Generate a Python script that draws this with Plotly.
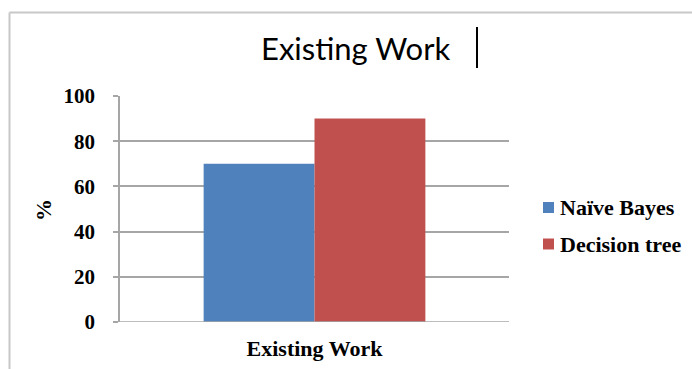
import plotly.graph_objects as go

categories = ["Existing Work"]
naive_bayes = [70]
decision_tree = [90]
series_names = ["Naïve Bayes", "Decision tree"]
series_colors = ["#4F81BD", "#C0504D"]
y_ticks = [0, 20, 40, 60, 80, 100]

W, H = 692, 369
L, R, T, B = 120, 509, 96, 322  # plot area in px
pw, ph = R - L, B - T

def px(x):
    return (x - L) / pw

def py(y):
    return (B - y) / ph

fig = go.Figure()
for name, vals, col in [(series_names[0], naive_bayes, series_colors[0]),
                        (series_names[1], decision_tree, series_colors[1])]:
    fig.add_trace(go.Bar(x=categories, y=vals, name=name, marker_color=col,
                         marker_line_width=0, showlegend=False))

serif = "Liberation Serif, Times New Roman, serif"
bold22 = dict(family=serif, size=22, color="black", weight="bold")
fig.update_layout(
    width=W, height=H,
    margin=dict(l=L, r=W - R, t=T, b=H - B, pad=0, autoexpand=False),
    paper_bgcolor="white", plot_bgcolor="white",
    barmode="group", bargap=0.43, bargroupgap=0,
    showlegend=False,
    xaxis=dict(showline=False, showgrid=False, ticks="", automargin=False,
               tickfont=dict(family=serif, size=22, color="black", weight="bold"),
               ticklabelstandoff=11),
    yaxis=dict(range=[0, 100], tickvals=y_ticks, showgrid=True, gridcolor="#A6A6A6",
               gridwidth=1.5, showline=True, linecolor="#A6A6A6", linewidth=1.5,
               ticks="outside", ticklen=5, tickcolor="#A6A6A6", tickwidth=1.5,
               zeroline=False, automargin=False,
               tickfont=dict(family=serif, size=21, color="black", weight="bold"),
               ticklabelstandoff=14),
    font=dict(family=serif, color="black"),
)

fig.add_annotation(text="Existing Work", xref="paper", yref="paper", x=px(355), y=py(48),
                   showarrow=False, font=dict(family="Lato, Calibri, sans-serif", size=31, color="black"),
                   xanchor="center", yanchor="middle")
fig.add_annotation(text="%", xref="paper", yref="paper", x=px(43), y=py(210), textangle=-90,
                   showarrow=False, font=bold22, xanchor="center", yanchor="middle")

# legend (manual)
leg_y = [207.5, 244]
for name, col, yy in zip(series_names, series_colors, leg_y):
    fig.add_shape(type="rect", xref="paper", yref="paper", x0=px(543), x1=px(554),
                  y0=py(yy - 5.5), y1=py(yy + 5.5), fillcolor=col, line=dict(width=0))
    fig.add_annotation(text=name, xref="paper", yref="paper", x=px(558), y=py(yy),
                       showarrow=False, font=bold22, xanchor="left", yanchor="middle")

# zero line spanning tick to plot right
fig.add_shape(type="line", xref="paper", yref="y", x0=px(115), x1=1, y0=0, y1=0,
              line=dict(color="#A6A6A6", width=1.5))
# outer frame
fig.add_shape(type="line", xref="paper", yref="paper", x0=px(9.5), x1=px(700), y0=py(12.5), y1=py(12.5),
              line=dict(color="#C8C8C8", width=2))
fig.add_shape(type="line", xref="paper", yref="paper", x0=px(9.5), x1=px(9.5), y0=py(12.5), y1=py(380),
              line=dict(color="#C8C8C8", width=2))
# text cursor
fig.add_shape(type="line", xref="paper", yref="paper", x0=px(477), x1=px(477), y0=py(27), y1=py(68),
              line=dict(color="black", width=2))

fig.write_html("out.html")
